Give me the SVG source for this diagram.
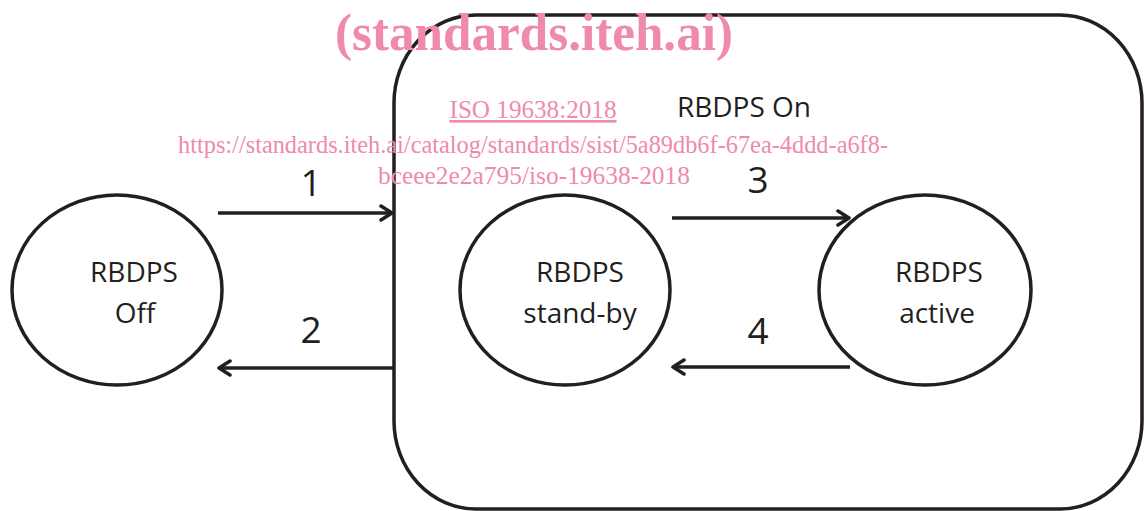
<svg xmlns="http://www.w3.org/2000/svg" width="1144" height="511" viewBox="0 0 1144 511">
<defs>
<style>
.node{fill:none;stroke:#231f20;stroke-width:3.5}
.lbl{font-family:"Open Sans","Liberation Sans",sans-serif;font-size:28px;fill:#231f20;text-anchor:middle}
.num{font-family:"Open Sans","Liberation Sans",sans-serif;font-size:37px;fill:#231f20;text-anchor:middle}
.edge{stroke:#231f20;stroke-width:3.5;fill:none;marker-end:url(#arr)}
.wm{font-family:"Liberation Serif",serif;fill:#ef8aab;text-anchor:middle}
</style>
<marker id="arr" markerWidth="16" markerHeight="18" refX="13" refY="9" orient="auto" markerUnits="userSpaceOnUse">
<path d="M2,2 L13,9 L2,16" fill="none" stroke="#231f20" stroke-width="3.5" stroke-linecap="round" stroke-linejoin="round"/>
</marker>
</defs>
<rect width="1144" height="511" fill="#fff"/>
<g id="on">
<rect class="node" x="394" y="15" width="748" height="494" rx="82" ry="88"/>
<text class="lbl" x="744" y="117">RBDPS  On</text>
</g>
<g id="off">
<ellipse class="node" cx="117" cy="290" rx="105" ry="95"/>
<text class="lbl" x="134" y="282">RBDPS</text>
<text class="lbl" x="135" y="323">Off</text>
</g>
<g id="standby">
<ellipse class="node" cx="565" cy="290" rx="105" ry="95"/>
<text class="lbl" x="580" y="282">RBDPS</text>
<text class="lbl" x="580" y="323">stand-by</text>
</g>
<g id="active">
<ellipse class="node" cx="925" cy="290" rx="106" ry="95"/>
<text class="lbl" x="939" y="282">RBDPS</text>
<text class="lbl" x="937" y="323">active</text>
</g>
<g id="connectors">
<line class="edge" x1="218" y1="213" x2="392" y2="213"/>
<line class="edge" x1="393" y1="368" x2="219" y2="368"/>
<line class="edge" x1="672" y1="218" x2="849" y2="218"/>
<line class="edge" x1="850" y1="367" x2="673" y2="367"/>
<text class="num" x="311" y="196">1</text>
<text class="num" x="311" y="343">2</text>
<text class="num" x="758" y="193">3</text>
<text class="num" x="758" y="344">4</text>
</g>
<g id="watermark">
<text class="wm" x="534" y="50" font-size="52" font-weight="bold" textLength="398" lengthAdjust="spacingAndGlyphs">(standards.iteh.ai)</text>
<text class="wm" x="533" y="118" font-size="26" text-decoration="underline" textLength="167" lengthAdjust="spacingAndGlyphs">ISO 19638:2018</text>
<text class="wm" x="533" y="153" font-size="26" textLength="710" lengthAdjust="spacingAndGlyphs">https://standards.iteh.ai/catalog/standards/sist/5a89db6f-67ea-4ddd-a6f8-</text>
<text class="wm" x="534" y="184" font-size="26" textLength="312" lengthAdjust="spacingAndGlyphs">bceee2e2a795/iso-19638-2018</text>
</g>
</svg>
